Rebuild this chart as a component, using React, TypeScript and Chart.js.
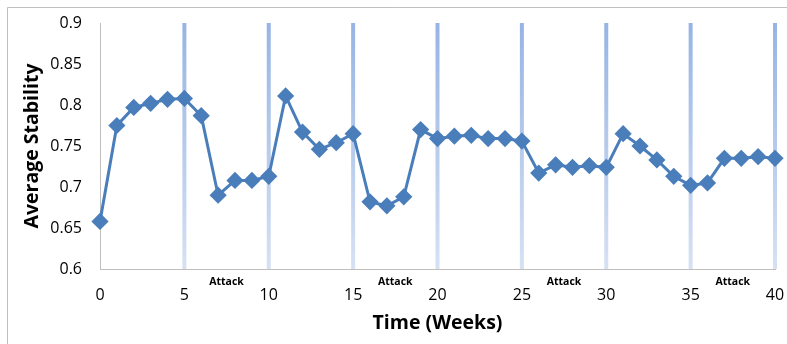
import React, { useEffect, useRef } from "react";
import { Chart, registerables } from "chart.js";

Chart.register(...registerables);

const weeks = [
  0, 1, 2, 3, 4, 5, 6, 7, 8, 9, 10, 11, 12, 13, 14, 15, 16, 17, 18, 19, 20,
  21, 22, 23, 24, 25, 26, 27, 28, 29, 30, 31, 32, 33, 34, 35, 36, 37, 38, 39, 40,
];
const stability = [
  0.658, 0.775, 0.797, 0.802, 0.807, 0.808, 0.787, 0.69, 0.708, 0.708, 0.713,
  0.811, 0.767, 0.746, 0.754, 0.765, 0.682, 0.677, 0.688, 0.77, 0.759, 0.762,
  0.763, 0.759, 0.759, 0.756, 0.717, 0.727, 0.724, 0.726, 0.724, 0.765, 0.75,
  0.733, 0.713, 0.702, 0.705, 0.735, 0.735, 0.737, 0.735,
];
const attackMarkerWeeks = [5, 10, 15, 20, 25, 30, 35, 40];
const attackLabelWeeks = [7.5, 17.5, 27.5, 37.5];
const attackLabel = "Attack";
const xTitle = "Time (Weeks)";
const yTitle = "Average Stability";

const FONT = "'Open Sans', 'DejaVu Sans', sans-serif";

const decorPlugin = {
  id: "decor",
  beforeDraw(chart: any) {
    const ctx = chart.ctx;
    ctx.save();
    ctx.fillStyle = "#ffffff";
    ctx.fillRect(0, 0, chart.width, chart.height);
    ctx.strokeStyle = "#bfbfbf";
    ctx.lineWidth = 1;
    ctx.beginPath();
    ctx.moveTo(7.5, chart.height);
    ctx.lineTo(7.5, 7.5);
    ctx.lineTo(chart.width, 7.5);
    ctx.stroke();
    ctx.restore();
  },
  beforeDatasetsDraw(chart: any) {
    const ctx = chart.ctx;
    const xs = chart.scales.x;
    const { top, bottom } = chart.chartArea;
    ctx.save();
    const grad = ctx.createLinearGradient(0, top, 0, bottom);
    grad.addColorStop(0, "rgb(150,180,228)");
    grad.addColorStop(1, "rgb(214,225,243)");
    ctx.strokeStyle = grad;
    ctx.lineWidth = 4;
    for (const w of attackMarkerWeeks) {
      const px = xs.getPixelForValue(w);
      ctx.beginPath();
      ctx.moveTo(px, top);
      ctx.lineTo(px, bottom);
      ctx.stroke();
    }
    ctx.restore();
  },
  afterDraw(chart: any) {
    const ctx = chart.ctx;
    const xs = chart.scales.x;
    const { bottom } = chart.chartArea;
    ctx.save();
    ctx.fillStyle = "#000000";
    ctx.font = `bold 10.5px ${FONT}`;
    ctx.textAlign = "center";
    ctx.textBaseline = "middle";
    for (const w of attackLabelWeeks) {
      ctx.fillText(attackLabel, xs.getPixelForValue(w), bottom + 13);
    }
    ctx.restore();
  },
};

export default function App() {
  const ref = useRef<HTMLCanvasElement>(null);
  useEffect(() => {
    if (!ref.current) return;
    const chart = new Chart(ref.current, {
      type: "line",
      data: {
        datasets: [
          {
            data: weeks.map((w, i) => ({ x: w, y: stability[i] })),
            borderColor: "#4a7ebb",
            backgroundColor: "#4a7ebb",
            borderWidth: 3,
            pointStyle: "rectRot",
            pointRadius: 6.5,
            pointBackgroundColor: "#4a7ebb",
            pointBorderColor: "#4a7ebb",
            tension: 0,
            clip: false,
          },
        ],
      },
      options: {
        responsive: false,
        animation: false,
        layout: { padding: { left: 0, right: 12, top: 23, bottom: 0 } },
        plugins: { legend: { display: false }, tooltip: { enabled: false } },
        scales: {
          x: {
            type: "linear",
            min: 0,
            max: 40,
            grid: { display: false, drawTicks: false },
            border: { display: true, color: "#bfbfbf", width: 1 },
            ticks: {
              stepSize: 5,
              padding: 17,
              color: "#000000",
              font: { family: FONT, size: 16 },
              maxRotation: 0,
            },
            title: {
              display: true,
              text: xTitle,
              color: "#000000",
              font: { family: FONT, size: 19.5, weight: "bold" },
              padding: { top: 0, bottom: 9 },
            },
            afterFit(scale: any) {
              scale.height = 75;
              scale.paddingLeft = 0;
              scale.paddingRight = 0;
            },
          },
          y: {
            min: 0.6,
            max: 0.9,
            grid: { display: false, drawTicks: false },
            border: { display: true, color: "#bfbfbf", width: 1 },
            ticks: {
              stepSize: 0.05,
              padding: 18,
              color: "#000000",
              font: { family: FONT, size: 16 },
              callback: (v: any) => String(parseFloat(Number(v).toFixed(2))),
            },
            title: {
              display: true,
              text: yTitle,
              color: "#000000",
              font: { family: FONT, size: 19.5, weight: "bold" },
              padding: { top: 21, bottom: 0 },
            },
            afterFit(scale: any) {
              scale.width = 100;
              scale.paddingTop = 0;
              scale.paddingBottom = 0;
            },
          },
        },
      },
      plugins: [decorPlugin],
    } as any);
    return () => chart.destroy();
  }, []);
  return (
    <div style={{ position: "fixed", left: 0, top: 0, width: 787, height: 344 }}>
      <canvas ref={ref} width={787} height={344} style={{ display: "block" }} />
    </div>
  );
}
